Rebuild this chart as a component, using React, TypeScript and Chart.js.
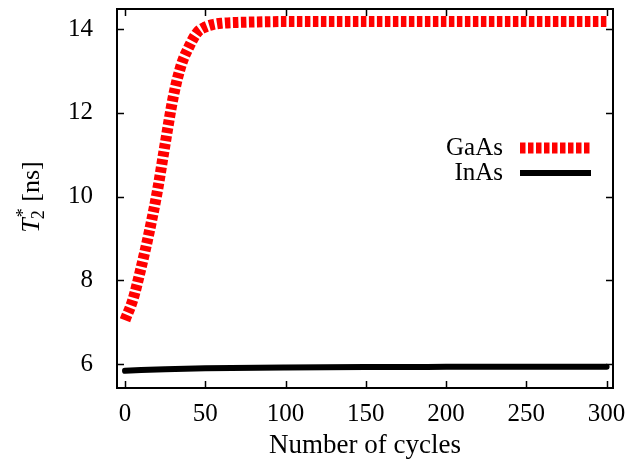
import React, { useEffect, useRef } from "react";
import { Chart, registerables } from "chart.js";

Chart.register(...registerables);

const gaasCycles = [0, 5, 10, 15, 20, 25, 30, 35, 40, 45, 50, 55, 60, 70, 80, 100, 150, 200, 250, 300];
const gaasT2 = [7.05, 7.55, 8.3, 9.14, 10.1, 11.26, 12.37, 13.14, 13.59, 13.92, 14.05, 14.11, 14.14, 14.16, 14.17, 14.18, 14.18, 14.18, 14.18, 14.18];

const inasCycles = [0, 10, 25, 50, 100, 150, 200, 250, 300];
const inasT2 = [5.84, 5.86, 5.88, 5.9, 5.92, 5.93, 5.935, 5.94, 5.94];

const xTicks = [0, 50, 100, 150, 200, 250, 300];
const yTicks = [6, 8, 10, 12, 14];

const seriesNames = ["GaAs", "InAs"];
const xTitle = "Number of cycles";

const FONT = "'Liberation Serif', 'Times New Roman', serif";
const FS = 25;

const decorPlugin = {
  id: "decor",
  afterDraw(chart: any) {
    const { ctx, chartArea: a, scales } = chart;
    const xs = scales.x;
    const ys = scales.y;
    ctx.save();
    ctx.strokeStyle = "#000";
    ctx.lineWidth = 1.5;
    ctx.beginPath();
    const tl = 7;
    for (const v of xTicks) {
      const px = Math.round(xs.getPixelForValue(v)) + 0.5;
      ctx.moveTo(px, a.bottom);
      ctx.lineTo(px, a.bottom - tl);
      ctx.moveTo(px, a.top);
      ctx.lineTo(px, a.top + tl);
    }
    for (const v of yTicks) {
      const py = Math.round(ys.getPixelForValue(v)) + 0.5;
      ctx.moveTo(a.left, py);
      ctx.lineTo(a.left + tl, py);
      ctx.moveTo(a.right, py);
      ctx.lineTo(a.right - tl, py);
    }
    ctx.stroke();
    ctx.lineWidth = 2;
    ctx.strokeRect(a.left, a.top, a.right - a.left, a.bottom - a.top);

    // legend
    ctx.fillStyle = "#000";
    ctx.font = `${FS}px ${FONT}`;
    ctx.textAlign = "right";
    ctx.textBaseline = "middle";
    const lx = 503;
    const ly1 = 148;
    const ly2 = 173;
    ctx.fillText(seriesNames[0], lx, ly1);
    ctx.fillText(seriesNames[1], lx, ly2);
    ctx.beginPath();
    ctx.strokeStyle = "#ff0000";
    ctx.lineWidth = 11;
    ctx.setLineDash([5.5, 2.5]);
    ctx.lineCap = "butt";
    ctx.moveTo(520, ly1);
    ctx.lineTo(591, ly1);
    ctx.stroke();
    ctx.setLineDash([]);
    ctx.beginPath();
    ctx.strokeStyle = "#000";
    ctx.lineWidth = 6;
    ctx.moveTo(520, ly2);
    ctx.lineTo(591, ly2);
    ctx.stroke();

    // y title: T_2^* [ns]
    ctx.translate(31, 197);
    ctx.rotate(-Math.PI / 2);
    ctx.textAlign = "left";
    ctx.textBaseline = "alphabetic";
    const fT = `italic ${FS + 1}px ${FONT}`;
    const fS = `${Math.round(FS * 0.7)}px ${FONT}`;
    const fN = `${FS + 1}px ${FONT}`;
    ctx.font = fT;
    const wT = ctx.measureText("T").width;
    ctx.font = fS;
    const w2 = ctx.measureText("2").width;
    const wStar = ctx.measureText("*").width;
    ctx.font = fN;
    const wRest = ctx.measureText(" [ns]").width;
    const total = wT + Math.max(w2, wStar) + 1 + wRest;
    let x = -total / 2;
    const base = 8;
    ctx.font = fT;
    ctx.fillText("T", x, base);
    x += wT;
    ctx.font = fS;
    ctx.fillText("2", x - 1, base + 5);
    ctx.fillText("*", x + 1, base - 10);
    x += Math.max(w2, wStar) + 1;
    ctx.font = fN;
    ctx.fillText(" [ns]", x, base);
    ctx.restore();
  },
};

export default function App() {
  const ref = useRef<HTMLCanvasElement>(null);
  useEffect(() => {
    document.body.style.margin = "0";
    const canvas = ref.current;
    if (!canvas) return;
    const chart = new Chart(canvas, {
      type: "line",
      data: {
        datasets: [
          {
            label: seriesNames[0],
            data: gaasCycles.map((c, i) => ({ x: c, y: gaasT2[i] })),
            borderColor: "#ff0000",
            borderWidth: 11,
            borderDash: [5.5, 2.5],
            borderCapStyle: "butt",
            pointRadius: 0,
            fill: false,
            cubicInterpolationMode: "monotone",
          },
          {
            label: seriesNames[1],
            data: inasCycles.map((c, i) => ({ x: c, y: inasT2[i] })),
            borderColor: "#000000",
            borderWidth: 6,
            borderCapStyle: "round",
            pointRadius: 0,
            fill: false,
            cubicInterpolationMode: "monotone",
          },
        ],
      },
      options: {
        responsive: false,
        animation: false,
        devicePixelRatio: 1,
        layout: { padding: { top: 9, right: 29, left: 0, bottom: 0 } },
        plugins: { legend: { display: false }, tooltip: { enabled: false } },
        scales: {
          x: {
            type: "linear",
            min: -5,
            max: 304,
            grid: { display: false },
            border: { display: false },
            afterBuildTicks: (s: any) => {
              s.ticks = xTicks.map((v) => ({ value: v }));
            },
            afterFit: (s: any) => {
              s.height = 462 - 388;
              s.paddingLeft = 0;
              s.paddingRight = 0;
            },
            ticks: {
              color: "#000",
              padding: 3,
              maxRotation: 0,
              font: { family: FONT, size: FS },
            },
            title: {
              display: true,
              text: xTitle,
              color: "#000",
              padding: { top: 0, bottom: 0 },
              font: { family: FONT, size: FS + 2 },
            },
          },
          y: {
            type: "linear",
            min: 5.43,
            max: 14.48,
            grid: { display: false },
            border: { display: false },
            afterBuildTicks: (s: any) => {
              s.ticks = yTicks.map((v) => ({ value: v }));
            },
            afterFit: (s: any) => {
              s.width = 117;
              s.paddingTop = 0;
              s.paddingBottom = 0;
            },
            ticks: {
              color: "#000",
              padding: 16,
              font: { family: FONT, size: FS },
            },
          },
        },
      },
      plugins: [decorPlugin],
    } as any);
    return () => chart.destroy();
  }, []);
  return (
    <div style={{ width: 642, height: 462 }}>
      <canvas ref={ref} width={642} height={462} />
    </div>
  );
}
